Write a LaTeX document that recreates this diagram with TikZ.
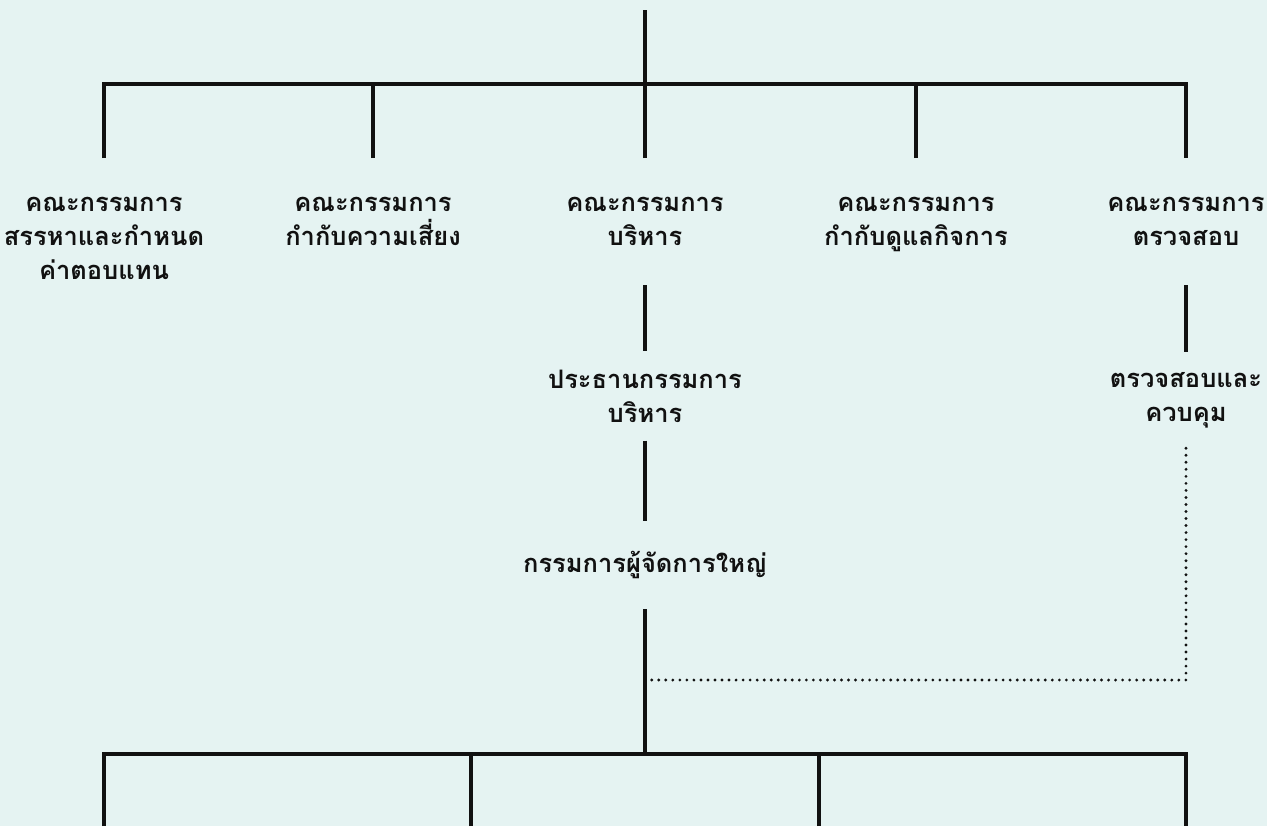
\documentclass[tikz,border=0pt]{standalone}
\usepackage{fontspec}
\usepackage{tikz}
\usepackage{xcolor}
\newfontfamily\thaifont[Script=Thai]{Loma}
\definecolor{bgcyan}{RGB}{229,243,242}
\definecolor{ink}{RGB}{17,17,17}

\tikzset{
  unit/.style={font=\thaifont\bfseries\fontsize{14.5pt}{19.4pt}\selectfont, align=center, inner xsep=0pt, text=ink},
  board/.style={unit, anchor=north, inner ysep=0.78cm},
  link/.style={draw=ink, line width=1.8pt},
  dotlink/.style={draw=ink, line width=1.8pt, line cap=round, dash pattern=on 0pt off 4pt}
}

\begin{document}
\begin{tikzpicture}[x=0.02cm,y=-0.02cm]
  \fill[bgcyan] (0,0) rectangle (1267,826);
  \useasboundingbox (0,0) rectangle (1267,826);
  \coordinate (top) at (645,10);
  \coordinate (bus) at (645,84);
  % board committees
  \node[board] (nom) at (104,158) {คณะกรรมการ\\สรรหาและกำหนด\\ค่าตอบแทน};
  \node[board] (risk) at (373,158) {คณะกรรมการ\\กำกับความเสี่ยง};
  \node[board] (exec) at (645,158) {คณะกรรมการ\\บริหาร};
  \node[board] (gov) at (916,158) {คณะกรรมการ\\กำกับดูแลกิจการ};
  \node[board] (audit) at (1186,158) {คณะกรรมการ\\ตรวจสอบ};
  \draw[link] (top) -- (bus);
  \draw[link] (nom.north) -- (nom.north |- bus) -- (audit.north |- bus) -- (audit.north);
  \foreach \n in {risk,exec,gov} \draw[link] (\n.north) -- (\n.north |- bus);
  % management line
  \node[unit, inner ysep=0.36cm] (chair) at (645,396) {ประธานกรรมการ\\บริหาร};
  \node[unit, inner ysep=0.6cm] (md) at (645,565) {กรรมการผู้จัดการใหญ่};
  \node[unit, inner ysep=0.4cm] (ctrl) at (1186,400) {ตรวจสอบและ\\ควบคุม};
  \draw[link] (exec.south) -- (chair.north);
  \draw[link] (chair.south) -- (md.north);
  \draw[link] (audit.south) -- (ctrl.north);
  % departments
  \coordinate (hub) at (645,754);
  \coordinate (tap) at (645,680);
  \draw[link] (md.south) -- (hub);
  \draw[dotlink] (ctrl.south) |- (tap);
  \foreach \x in {104,471,819,1186} \coordinate (d\x) at (\x,826);
  \draw[link] (d104) -- (d104 |- hub) -- (d1186 |- hub) -- (d1186);
  \draw[link] (d471) -- (d471 |- hub);
  \draw[link] (d819) -- (d819 |- hub);
\end{tikzpicture}
\end{document}
